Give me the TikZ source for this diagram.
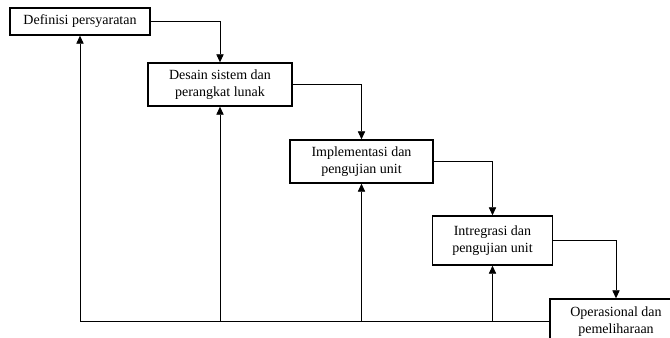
\documentclass[tikz,border=0pt]{standalone}
\usepackage{fontspec}
\setmainfont{Liberation Serif}
\usepackage{tikz}
\usetikzlibrary{positioning,arrows.meta}

\tikzset{fase/.style={draw,line width=1.1pt,align=center,inner sep=2pt,font=\fontsize{10.5}{13}\selectfont}}

\begin{document}
\begin{tikzpicture}[x=0.75pt,y=-0.75pt,>={Triangle[length=6pt,width=5.5pt]}]
\useasboundingbox (0,0) rectangle (670,338);
\node[fase,minimum width=140*0.75pt,minimum height=27*0.75pt] (def) at (80,21.5) {Definisi persyaratan};
\node[fase,minimum width=144*0.75pt,minimum height=43*0.75pt] (desain) at (220,84.5) {Desain sistem dan\\perangkat lunak};
\node[fase,minimum width=143*0.75pt,minimum height=43*0.75pt] (impl) at (361.5,161.5) {Implementasi dan\\pengujian unit};
\node[fase,minimum width=120*0.75pt,minimum height=49*0.75pt] (integ) at (492.5,240.5) {Intregrasi dan\\pengujian unit};
\node[fase,minimum width=132*0.75pt,minimum height=45*0.75pt] (oper) at (616,321.5) {Operasional dan\\pemeliharaan};
\draw[->,thin] (def.east) -| (desain.north); \draw[->,thin] (desain.east) -| (impl.north);
\draw[->,thin] (impl.east) -| (integ.north); \draw[->,thin] (integ.east) -| (oper.north);
\draw[->,thin] (oper.west) -| (def.south);
\draw[->,thin] (oper.west -| desain.south) -- (desain.south);
\draw[->,thin] (oper.west -| impl.south) -- (impl.south);
\draw[->,thin] (oper.west -| integ.south) -- (integ.south);
\end{tikzpicture}
\end{document}
